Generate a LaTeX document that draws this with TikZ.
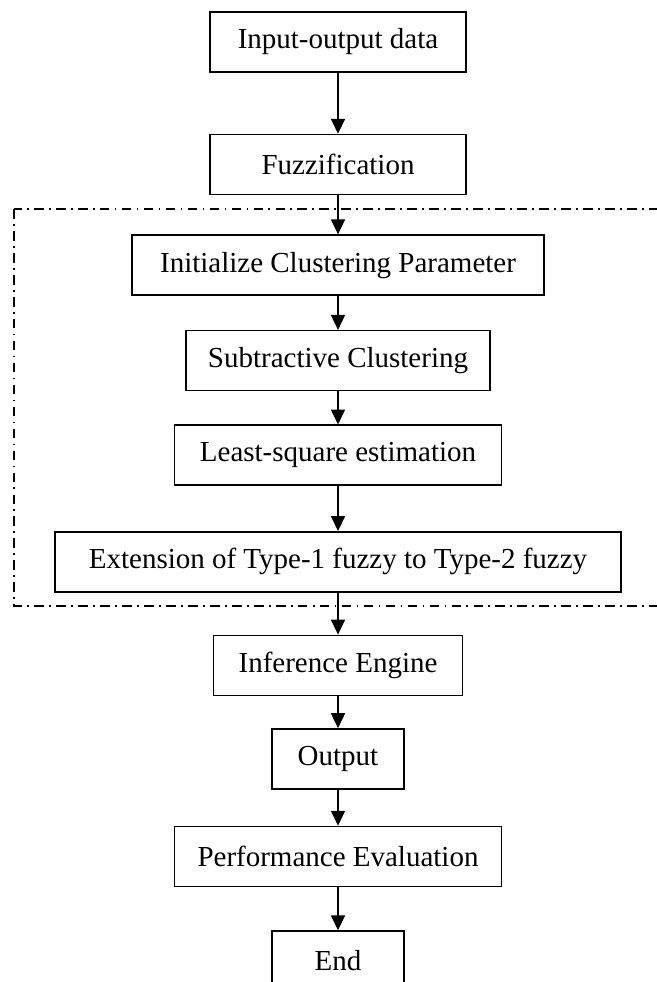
\documentclass[tikz,border=0pt]{standalone}
\usepackage{fontspec}
\setmainfont{Liberation Serif}
\usetikzlibrary{positioning, arrows.meta}

\begin{document}
\begin{tikzpicture}[
        x=0.02cm, y=-0.02cm,
        >={Triangle[length=8.5pt,width=8pt]},
        font=\fontsize{16.5}{19}\selectfont
    ]
        % Define node styles
        \tikzstyle{stepbox}=[
            draw,
            line width=0.9pt,
            inner sep=4pt,
            align=center,
            minimum height=1.2cm
        ]
        \tikzstyle{flowarrow}=[->, line width=0.8pt]
        \tikzstyle{groupline}=[line width=0.8pt, dash pattern=on 5.5pt off 3pt on 1pt off 3pt]

        \useasboundingbox (0,0) rectangle (656,982);

        % --- Main column ---
        \node[stepbox, minimum width=5.12cm] (data) at (338,42) {Input-output data};
        \node[stepbox, minimum width=5.12cm, below=1.22cm of data] (fuzz) {Fuzzification};
        \node[stepbox, minimum width=8.24cm, below=0.78cm of fuzz] (init) {Initialize Clustering Parameter};
        \node[stepbox, minimum width=6.08cm, below=0.68cm of init] (subclus) {Subtractive Clustering};
        \node[stepbox, minimum width=6.54cm, below=0.66cm of subclus] (lse) {Least-square estimation};
        \node[stepbox, minimum width=11.32cm, below=0.9cm of lse] (ext) {Extension of Type-1 fuzzy to Type-2 fuzzy};
        \node[stepbox, minimum width=4.98cm, below=0.84cm of ext] (infer) {Inference Engine};
        \node[stepbox, minimum width=2.64cm, below=0.64cm of infer] (out) {Output};
        \node[stepbox, minimum width=6.54cm, below=0.72cm of out] (perf) {Performance Evaluation};
        \node[stepbox, minimum width=2.64cm, below=0.86cm of perf] (fin) {End};

        % --- Clustering block ---
        \draw[groupline] (14,209) rectangle (664,606);

        % --- Connections ---
        \draw[flowarrow] (data) -- (fuzz);
        \draw[flowarrow] (fuzz) -- (init);
        \draw[flowarrow] (init) -- (subclus);
        \draw[flowarrow] (subclus) -- (lse);
        \draw[flowarrow] (lse) -- (ext);
        \draw[flowarrow] (ext) -- (infer);
        \draw[flowarrow] (infer) -- (out);
        \draw[flowarrow] (out) -- (perf);
        \draw[flowarrow] (perf) -- (fin);

    \end{tikzpicture}
\end{document}
